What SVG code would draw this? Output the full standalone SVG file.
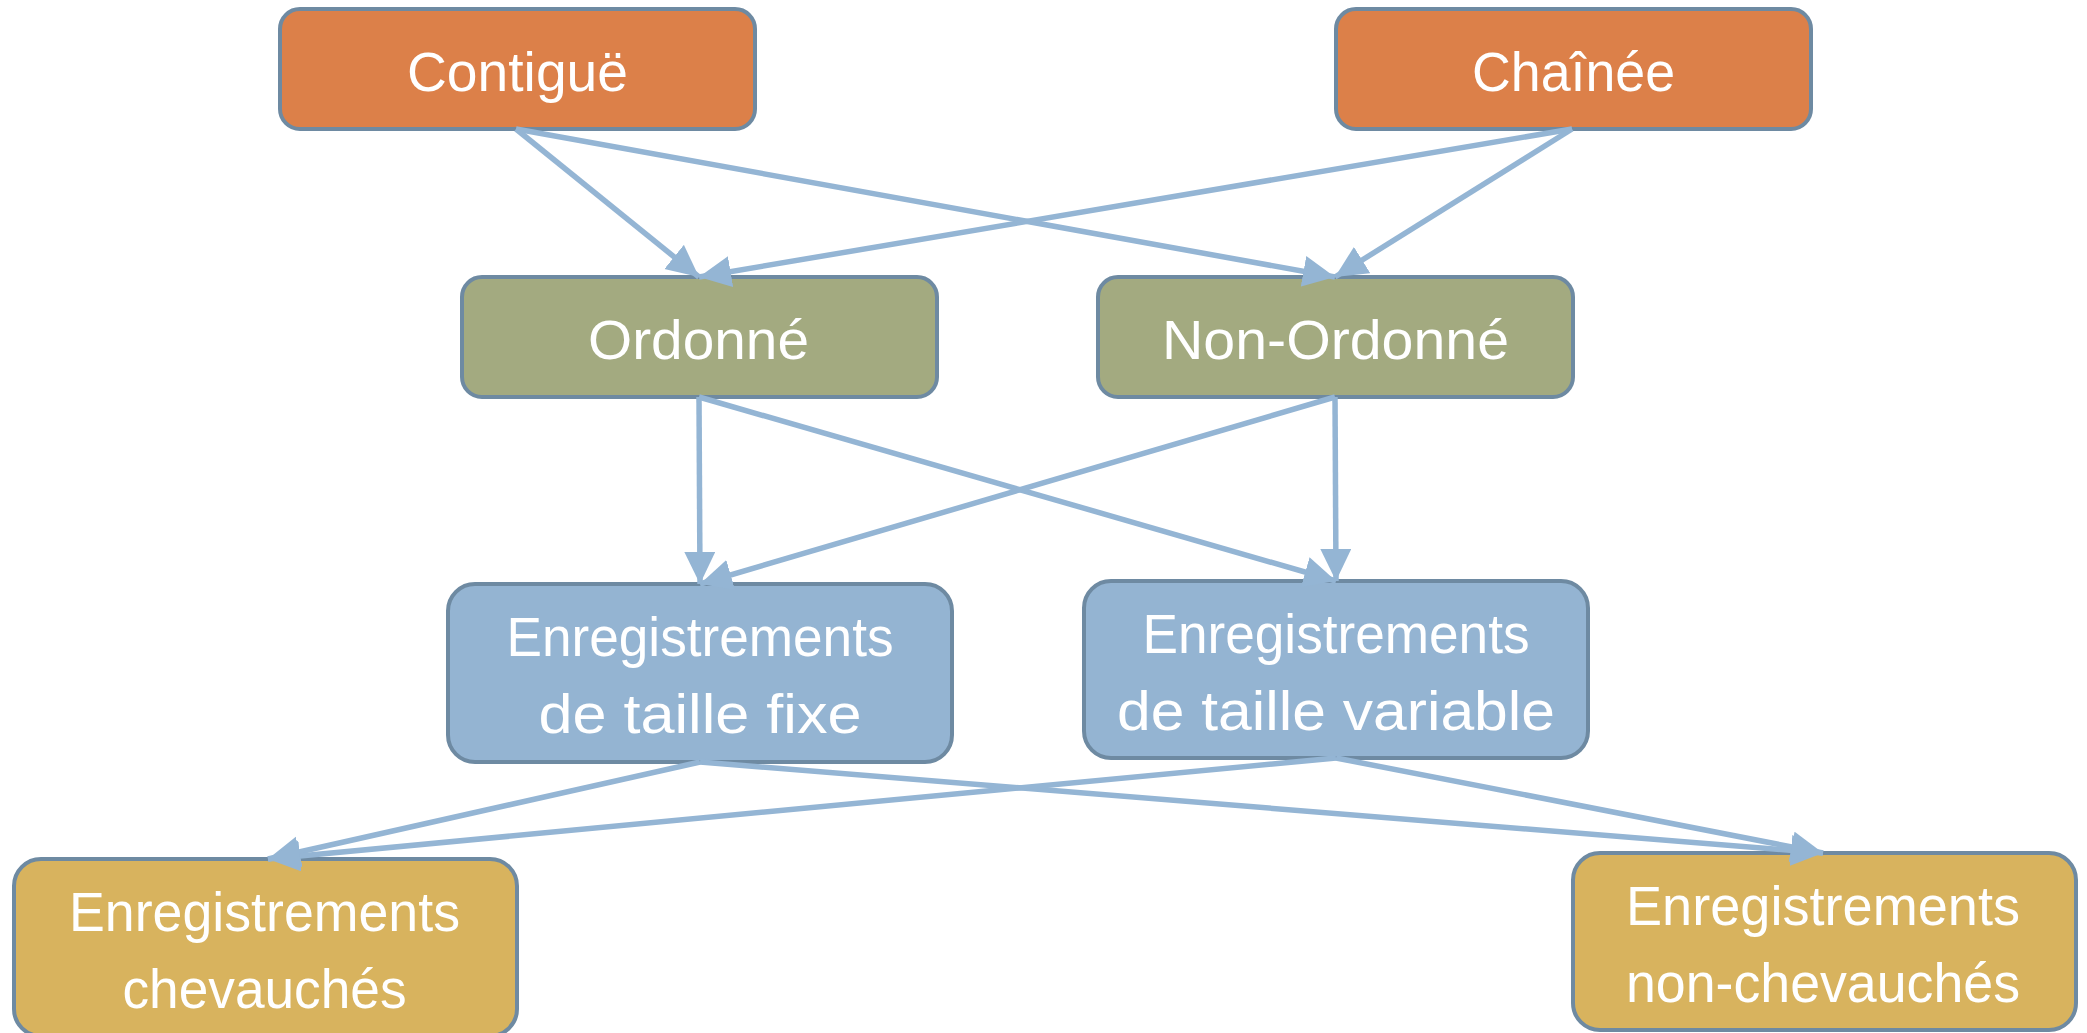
<svg xmlns="http://www.w3.org/2000/svg" width="2087" height="1033" viewBox="0 0 2087 1033">
  <style>
    .box { stroke: #6E8AA2; stroke-width: 4; }
    .orange { fill: #DC8049; }
    .olive { fill: #A3AA80; }
    .blue { fill: #94B4D2; }
    .gold { fill: #D8B35E; }
    .lbl { font-family: "Liberation Sans", Arial, sans-serif; font-size: 55px; fill: #FFFFFF; text-anchor: middle; }
    .edge { stroke: #94B5D4; stroke-width: 5.5; fill: none; marker-end: url(#arrow); }
  </style>
  <defs>
    <marker id="arrow" markerUnits="userSpaceOnUse" markerWidth="33" markerHeight="32" refX="32" refY="15.5" orient="auto">
      <path d="M0,0 L32,15.5 L0,31 Z" fill="#94B5D4"/>
    </marker>
  </defs>

  <rect width="2087" height="1033" fill="#FFFFFF"/>

  <!-- nodes -->
  <g id="contigue">
    <rect class="box orange" x="280" y="9" width="475" height="120" rx="20"/>
    <text class="lbl" x="517.5" y="91" textLength="221" lengthAdjust="spacingAndGlyphs">Contiguë</text>
  </g>
  <g id="chainee">
    <rect class="box orange" x="1336" y="9" width="475" height="120" rx="20"/>
    <text class="lbl" x="1573.5" y="91" textLength="203" lengthAdjust="spacingAndGlyphs">Chaînée</text>
  </g>
  <g id="ordonne">
    <rect class="box olive" x="462" y="277" width="475" height="120" rx="20"/>
    <text class="lbl" x="698.5" y="359" textLength="221" lengthAdjust="spacingAndGlyphs">Ordonné</text>
  </g>
  <g id="non-ordonne">
    <rect class="box olive" x="1098" y="277" width="475" height="120" rx="20"/>
    <text class="lbl" x="1335.5" y="359" textLength="347" lengthAdjust="spacingAndGlyphs">Non-Ordonné</text>
  </g>
  <g id="taille-fixe">
    <rect class="box blue" x="448" y="584" width="504" height="178" rx="27"/>
    <text class="lbl" x="700" y="656" textLength="387" lengthAdjust="spacingAndGlyphs">Enregistrements</text>
    <text class="lbl" x="700" y="733" textLength="323" lengthAdjust="spacingAndGlyphs">de taille fixe</text>
  </g>
  <g id="taille-variable">
    <rect class="box blue" x="1084" y="581" width="504" height="177" rx="27"/>
    <text class="lbl" x="1336" y="653" textLength="387" lengthAdjust="spacingAndGlyphs">Enregistrements</text>
    <text class="lbl" x="1336" y="730" textLength="438" lengthAdjust="spacingAndGlyphs">de taille variable</text>
  </g>
  <g id="chevauches">
    <rect class="box gold" x="14" y="859" width="503" height="177" rx="27"/>
    <text class="lbl" x="264.5" y="931" textLength="391" lengthAdjust="spacingAndGlyphs">Enregistrements</text>
    <text class="lbl" x="264.5" y="1008" textLength="284" lengthAdjust="spacingAndGlyphs">chevauchés</text>
  </g>
  <g id="non-chevauches">
    <rect class="box gold" x="1573" y="853" width="503" height="177" rx="27"/>
    <text class="lbl" x="1823" y="925" textLength="394" lengthAdjust="spacingAndGlyphs">Enregistrements</text>
    <text class="lbl" x="1823" y="1002" textLength="394" lengthAdjust="spacingAndGlyphs">non-chevauchés</text>
  </g>

  <!-- connectors -->
  <g id="connectors">
    <line class="edge" x1="516" y1="129" x2="699" y2="277"/>
    <line class="edge" x1="516" y1="129" x2="1335" y2="277"/>
    <line class="edge" x1="1572" y1="129" x2="699" y2="277"/>
    <line class="edge" x1="1572" y1="129" x2="1335" y2="277"/>
    <line class="edge" x1="699" y1="397" x2="700" y2="584"/>
    <line class="edge" x1="699" y1="397" x2="1336" y2="581"/>
    <line class="edge" x1="1335" y1="397" x2="700" y2="584"/>
    <line class="edge" x1="1335" y1="397" x2="1336" y2="581"/>
    <line class="edge" x1="700" y1="762" x2="268" y2="859"/>
    <line class="edge" x1="700" y1="762" x2="1823" y2="853"/>
    <line class="edge" x1="1336" y1="758" x2="268" y2="859"/>
    <line class="edge" x1="1336" y1="758" x2="1823" y2="853"/>
  </g>
</svg>
